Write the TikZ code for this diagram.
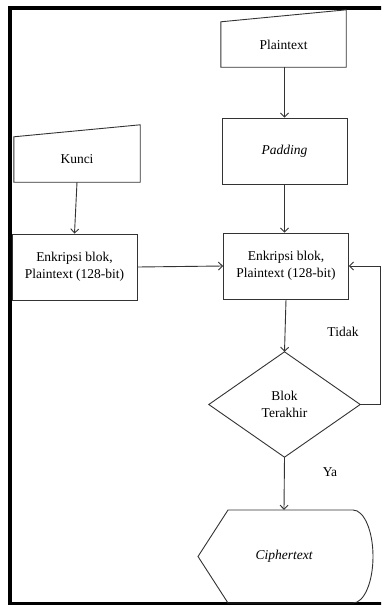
\documentclass[tikz,border=0pt]{standalone}
\usepackage{fontspec}
\setmainfont{Liberation Serif}
\usetikzlibrary{arrows.meta,calc}
\begin{document}
\begin{tikzpicture}[x=1pt,y=-1pt,
  shp/.style={draw=black!80,line width=0.9pt},
  box/.style={shp,minimum width=125pt,minimum height=66pt,inner sep=0pt,align=center},
  txt/.style={inner sep=0pt,align=center},
  arr/.style={draw=black!80,line width=0.9pt,-{Straight Barb[length=4pt,width=8pt]}},
  font=\fontsize{13.5}{17}\selectfont]
\useasboundingbox (0,0) rectangle (381,605);
\clip (0,0) rectangle (381,605);
\fill[white] (0,0) rectangle (381,605);
% frame
\draw[line width=4pt] (400,8) -- (9.5,8) -- (9.5,603.5) -- (400,603.5);
% Plaintext (manual input)
\node[txt,minimum width=125pt,minimum height=45pt] (pt) at (283.5,44.5) {Plaintext};
\draw[shp] (pt.south west) -- (pt.south east) -- ($(pt.north east)+(0,-12)$) -- (pt.north west) -- cycle;
% Padding
\node[box] (pad) at (284.5,151) {\itshape Padding};
% Kunci (manual input)
\node[txt,minimum width=126pt,minimum height=45pt] (k) at (77,159.5) {Kunci};
\draw[shp] (k.south west) -- (k.south east) -- ($(k.north east)+(0,-12)$) -- (k.north west) -- cycle;
% Enkripsi boxes
\node[box,fill=white] (e1) at (74.5,267) {Enkripsi blok,\\Plaintext (128-bit)};
\node[box] (e2) at (286,266) {Enkripsi blok,\\Plaintext (128-bit)};
% Diamond
\node[txt,minimum width=151pt,minimum height=105pt] (d) at (284.5,404.5) {Blok\\Terakhir};
\draw[shp] (d.north) -- (d.east) -- (d.south) -- (d.west) -- cycle;
% Ciphertext (display)
\node[txt,minimum width=172pt,minimum height=93pt] (ct) at (284,556.5) {\raisebox{-1pt}{\itshape Ciphertext}};
\draw[shp] (228,510) -- (353,510) arc[start angle=-90,end angle=90,x radius=20,y radius=46.5] -- (228,603) -- (198,556.5) -- cycle;
% connectors
\draw[arr] (pt.south -| pad.north) -- (pad.north);
\draw[arr] (pad.south) -- (pad.south |- e2.north);
\draw[arr] (k.south) -- (e1.north);
\draw[arr] (e1.east) -- (e2.west);
\draw[arr] (e2.south) -- (d.north);
\draw[arr] (d.east) -- ++(20,0) |- (e2.east);
\draw[arr] (d.south) -- (ct.north);
% labels
\node[txt] (tidak) at (343,332) {Tidak};
\node[txt] (ya) at (330,472) {Ya};
\end{tikzpicture}
\end{document}
